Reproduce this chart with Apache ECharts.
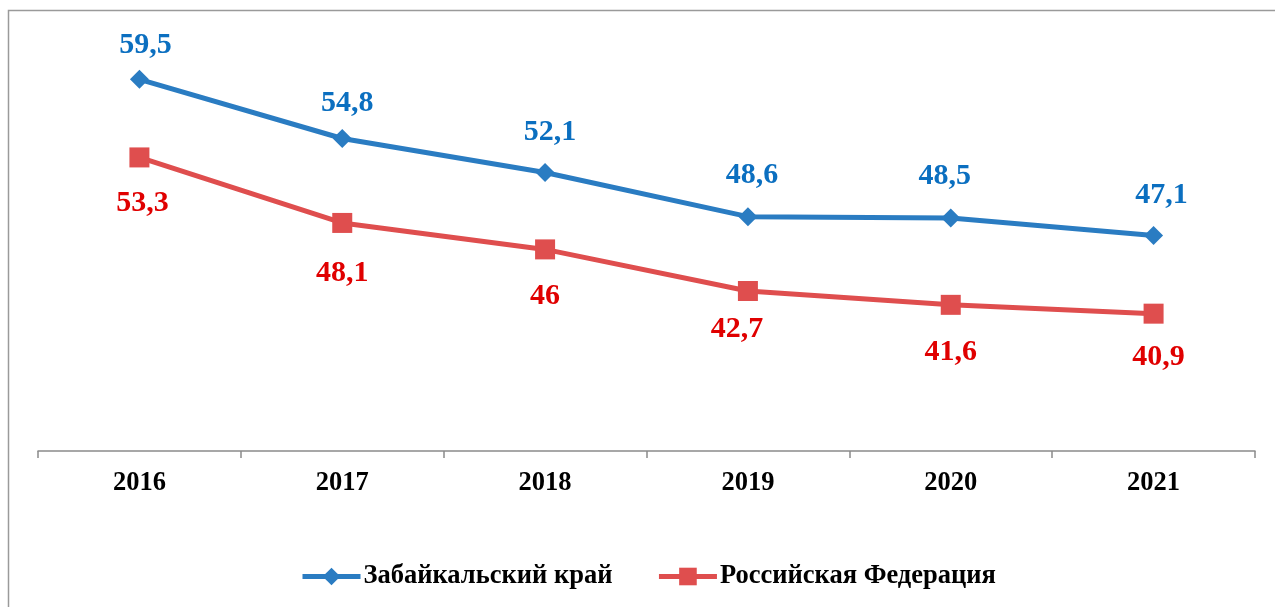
<!DOCTYPE html>
<html>
<head>
<meta charset="utf-8">
<script src="https://cdn.jsdelivr.net/npm/echarts@6/dist/echarts.min.js"></script>
<style>html,body{margin:0;padding:0;background:#fff}#c{width:1275px;height:607px}</style>
</head>
<body>
<div id="c"></div>
<script>
const categories = ['2016', '2017', '2018', '2019', '2020', '2021'];
const zabaikalsky = [59.5, 54.8, 52.1, 48.6, 48.5, 47.1];
const russia = [53.3, 48.1, 46, 42.7, 41.6, 40.9];
const seriesNames = ['Забайкальский край', 'Российская Федерация'];

// label placement (style only): [dx, dy] from the marker
const blueLabelOffsets = [[6, -34], [5, -35], [5, -40], [4, -41], [-6, -42], [8, -40]];
const redLabelOffsets = [[3, 46], [0, 50], [0, 47], [-11, 38], [0, 47], [5, 44]];

const fmt = v => String(v).replace('.', ',');
const FONT = '"Liberation Serif", "Times New Roman", serif';

function build(values, offsets) {
  return values.map((v, i) => ({
    value: v,
    label: { offset: offsets[i] }
  }));
}

const chart = echarts.init(document.getElementById('c'), null, { renderer: 'canvas' });
chart.setOption({
  backgroundColor: '#ffffff',
  animation: false,
  graphic: [{
    type: 'rect',
    shape: { x: 8.5, y: 10.5, width: 1400, height: 700 },
    style: { fill: 'none', stroke: '#9a9a9a', lineWidth: 1.5 },
    silent: true
  }],
  grid: { left: 38, right: 20, top: 73, bottom: 156 },
  xAxis: {
    type: 'category',
    data: categories,
    boundaryGap: true,
    axisLine: { lineStyle: { color: '#8a8a8a', width: 1.5 } },
    axisTick: { show: true, length: 7, lineStyle: { color: '#8a8a8a', width: 1.5 } },
    axisLabel: { color: '#000', fontFamily: FONT, fontWeight: 'bold', fontSize: 26.5, margin: 19 },
    splitLine: { show: false }
  },
  yAxis: {
    type: 'value', min: 30, max: 60,
    show: false,
    splitLine: { show: false }
  },
  legend: {
    left: 295, top: 558,
    itemWidth: 58, itemHeight: 22, itemGap: 44,
    lineStyle: { width: 5 },
    textStyle: { color: '#000', fontFamily: FONT, fontWeight: 'bold', fontSize: 26.5, padding: [0, 0, 0, -2] },
    data: seriesNames
  },
  series: [
    {
      name: seriesNames[0], type: 'line',
      data: build(zabaikalsky, blueLabelOffsets),
      symbol: 'diamond', symbolSize: 19,
      lineStyle: { color: '#2A7CC2', width: 5 },
      itemStyle: { color: '#2A7CC2' },
      label: {
        show: true, position: 'inside',
        formatter: p => fmt(p.value),
        color: '#0B6FC0', fontFamily: FONT, fontWeight: 'bold', fontSize: 30
      }
    },
    {
      name: seriesNames[1], type: 'line',
      data: build(russia, redLabelOffsets),
      symbol: 'rect', symbolSize: 20,
      lineStyle: { color: '#DF4E4E', width: 5 },
      itemStyle: { color: '#DF4E4E' },
      label: {
        show: true, position: 'inside',
        formatter: p => fmt(p.value),
        color: '#E00000', fontFamily: FONT, fontWeight: 'bold', fontSize: 30
      }
    }
  ]
});
</script>
</body>
</html>
